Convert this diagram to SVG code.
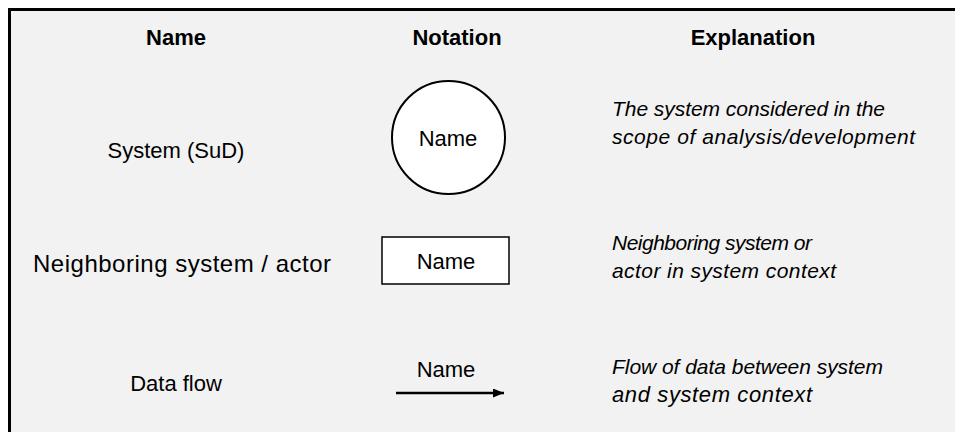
<svg xmlns="http://www.w3.org/2000/svg" width="955" height="432" viewBox="0 0 955 432">
  <style>
    text { font-family: "Liberation Sans", Arial, sans-serif; fill: #000; }
    .hdr { font-size: 22px; font-weight: bold; text-anchor: middle; }
    .lbl { font-size: 22px; text-anchor: middle; }
    .exp { font-size: 21px; font-style: italic; }
    .shape { fill: #fff; stroke: #000; }
  </style>
  <defs>
    <marker id="arrow" markerWidth="11" markerHeight="9" refX="11" refY="4.5" orient="auto" markerUnits="userSpaceOnUse">
      <path d="M0,0 L11,4.5 L0,9 Z" fill="#000"/>
    </marker>
  </defs>
  <rect x="0" y="0" width="955" height="432" fill="#fff"/>
  <rect x="9.5" y="9.5" width="950" height="430" fill="#f2f2f2" stroke="#000" stroke-width="3"/>

  <g id="headers">
    <text class="hdr" x="176" y="45">Name</text>
    <text class="hdr" x="457" y="45">Notation</text>
    <text class="hdr" x="753" y="45">Explanation</text>
  </g>

  <g id="row-system">
    <text class="lbl" x="176" y="158">System (SuD)</text>
    <g id="node-system">
      <circle class="shape" cx="448.5" cy="137.5" r="56.5" stroke-width="2"/>
      <text class="lbl" x="448" y="146">Name</text>
    </g>
    <text class="exp" x="612" y="116" textLength="273">The system considered in the</text>
    <text class="exp" x="612" y="144" textLength="303">scope of analysis/development</text>
  </g>

  <g id="row-neighbor">
    <text class="lbl" x="182" y="272" style="font-size:24px" textLength="298">Neighboring system / actor</text>
    <g id="node-neighbor">
      <rect class="shape" x="382" y="237" width="127" height="47" stroke-width="1.5"/>
      <text class="lbl" x="446" y="269">Name</text>
    </g>
    <text class="exp" x="612" y="250" textLength="200">Neighboring system or</text>
    <text class="exp" x="612" y="278" textLength="224">actor in system context</text>
  </g>

  <g id="row-dataflow">
    <text class="lbl" x="176" y="391">Data flow</text>
    <g id="connectors">
      <line x1="396" y1="393" x2="504" y2="393" stroke="#000" stroke-width="2.5" marker-end="url(#arrow)"/>
      <text class="lbl" x="446" y="377">Name</text>
    </g>
    <text class="exp" x="612" y="374" textLength="271">Flow of data between system</text>
    <text class="exp" x="612" y="402" style="font-size:22px" textLength="200">and system context</text>
  </g>
</svg>
